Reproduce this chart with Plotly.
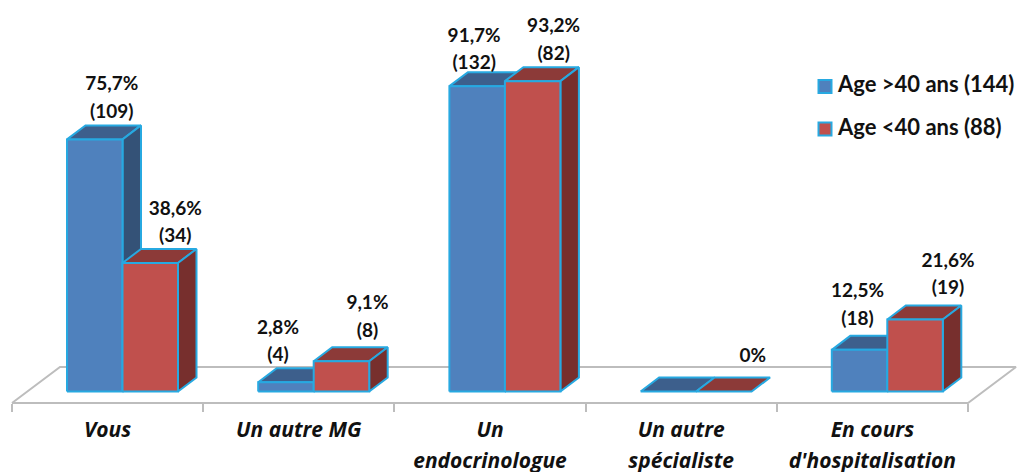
import plotly.graph_objects as go

categories = ["Vous", "Un autre MG", "Un endocrinologue", "Un autre spécialiste", "En cours d'hospitalisation"]
label_line1 = ["Vous", "Un autre MG", "Un", "Un autre", "En cours"]
label_line2 = ["", "", "endocrinologue", "spécialiste", "d'hospitalisation"]

series_names = ["Age >40 ans (144)", "Age <40 ans (88)"]
age_over_40 = [75.7, 2.8, 91.7, 0, 12.5]
age_under_40 = [38.6, 9.1, 93.2, 0, 21.6]
pct_text_over_40 = ["75,7%", "2,8%", "91,7%", "", "12,5%"]
pct_text_under_40 = ["38,6%", "9,1%", "93,2%", "0%", "21,6%"]
count_text_over_40 = ["(109)", "(4)", "(132)", "", "(18)"]
count_text_under_40 = ["(34)", "(8)", "(82)", "", "(19)"]

WIDTH, HEIGHT = 1018, 472
X0, CAT_W = 12, 191.2   # pixel of first tick, pixels per category
Y0, PCT_H = 391.5, 3.33  # pixel of value 0, pixels per %


def ux(px):
    return px / CAT_W


def uy(px):
    return px / PCT_H


def page_x(px):
    return ux(px - X0)


def page_y(py):
    return uy(Y0 - py)


BAR_W = ux(55.5)
BAR_START = ux(55)
DEPTH_X = ux(18.5)
DEPTH_Y = uy(14)

EDGE = "#27A9E1"
GREY = "#bdbdbd"
TEXT = "#111111"

# label nudges in pixels, relative to the front face of the bar (Excel labels were moved by hand)
nudge_over = [(17, 54, 26), (-8, 53, 26), (-3, 49, 22), (0, 0, 0), (-2, 58, 30)]
nudge_under = [(25, 53, 26), (26, 57, 29), (21, 54, 26), (29, 34, 34), (33, 57, 30)]

fig = go.Figure()


def poly(xs, ys, fill, width=2):
    fig.add_trace(go.Scatter(x=xs, y=ys, mode="lines", fill="toself", fillcolor=fill,
                             line=dict(color=EDGE, width=width), showlegend=False, hoverinfo="skip"))


def add_bar(left, value, front, top, side):
    right = left + BAR_W
    poly([left, left + DEPTH_X, right + DEPTH_X, right, left],
         [value, value + DEPTH_Y, value + DEPTH_Y, value, value], top)
    if value > 0:
        poly([right, right + DEPTH_X, right + DEPTH_X, right, right],
             [0, DEPTH_Y, value + DEPTH_Y, value, 0], side)
        poly([left, right, right, left, left], [0, 0, value, value, 0], front)


# floor of the 3D chart
n = len(categories)
floor_front = page_y(403)
floor_back = page_y(367)
fig.add_trace(go.Scatter(
    x=[0, ux(48), n + ux(48), n, 0],
    y=[floor_front, floor_back, floor_back, floor_front, floor_front],
    mode="lines", line=dict(color=GREY, width=2), showlegend=False, hoverinfo="skip"))

for i in range(n):
    left = i + BAR_START
    add_bar(left, age_over_40[i], "#4F81BD", "#3D5F8C", "#345277")
    add_bar(left + BAR_W, age_under_40[i], "#C0504D", "#8C3A38", "#772F2D")

# legend drawn by hand, the native one cannot sit the text this close to the swatch
legend_font = dict(family="Lato", size=22, color=TEXT, weight="bold")
for name, colour, py in zip(series_names, ["#4F81BD", "#C0504D"], [86.5, 129]):
    fig.add_trace(go.Scatter(x=[page_x(825)], y=[page_y(py)], mode="markers",
                             marker=dict(symbol="square", size=13, color=colour, line=dict(color=EDGE, width=2)),
                             showlegend=False, hoverinfo="skip"))
    fig.add_trace(go.Scatter(x=[page_x(838)], y=[page_y(py)], mode="text", text=[name],
                             textposition="middle right", textfont=legend_font,
                             showlegend=False, hoverinfo="skip"))

# data labels, one text trace per line
lab_x, lab_y, lab_t = [], [], []
for i in range(n):
    left = i + BAR_START
    for pos, val, pct, cnt, nudge in [
        (left, age_over_40[i], pct_text_over_40[i], count_text_over_40[i], nudge_over[i]),
        (left + BAR_W, age_under_40[i], pct_text_under_40[i], count_text_under_40[i], nudge_under[i]),
    ]:
        cx = pos + BAR_W / 2 + ux(nudge[0])
        if pct:
            lab_x.append(cx)
            lab_y.append(val + uy(nudge[1]))
            lab_t.append(pct)
        if cnt:
            lab_x.append(cx)
            lab_y.append(val + uy(nudge[2]))
            lab_t.append(cnt)
fig.add_trace(go.Scatter(x=lab_x, y=lab_y, mode="text", text=lab_t, textposition="middle center",
                         textfont=dict(family="Lato", size=19, color=TEXT, weight="bold"),
                         showlegend=False, hoverinfo="skip"))

# category labels: second lines sit further down than a normal line break
cat_font = dict(family="Open Sans", size=21, color=TEXT, weight="bold", style="italic")
fig.add_trace(go.Scatter(x=[i + 0.5 for i in range(n)], y=[page_y(432)] * n, mode="text", text=label_line1,
                         textposition="middle center", textfont=cat_font, showlegend=False, hoverinfo="skip"))
fig.add_trace(go.Scatter(x=[i + 0.5 for i in range(n)], y=[page_y(463)] * n, mode="text", text=label_line2,
                         textposition="middle center", textfont=cat_font, showlegend=False, hoverinfo="skip"))

fig.update_layout(
    width=WIDTH, height=HEIGHT,
    margin=dict(l=0, r=0, t=0, b=0),
    paper_bgcolor="white", plot_bgcolor="white",
    showlegend=False,
    xaxis=dict(range=[page_x(0), page_x(WIDTH)], visible=True, showgrid=False, zeroline=False,
               showticklabels=False, tickmode="array", tickvals=list(range(n + 1)), ticks="outside",
               ticklen=8, tickwidth=2, tickcolor=GREY, showline=False,
               anchor="free", position=(HEIGHT - 403) / HEIGHT),
    yaxis=dict(range=[page_y(HEIGHT), page_y(0)], visible=False),
)

# the page's default body margin would push the whole chart 8px in
fig.write_html("out.html", config={"displayModeBar": False},
               post_script="document.body.style.margin='0';")
